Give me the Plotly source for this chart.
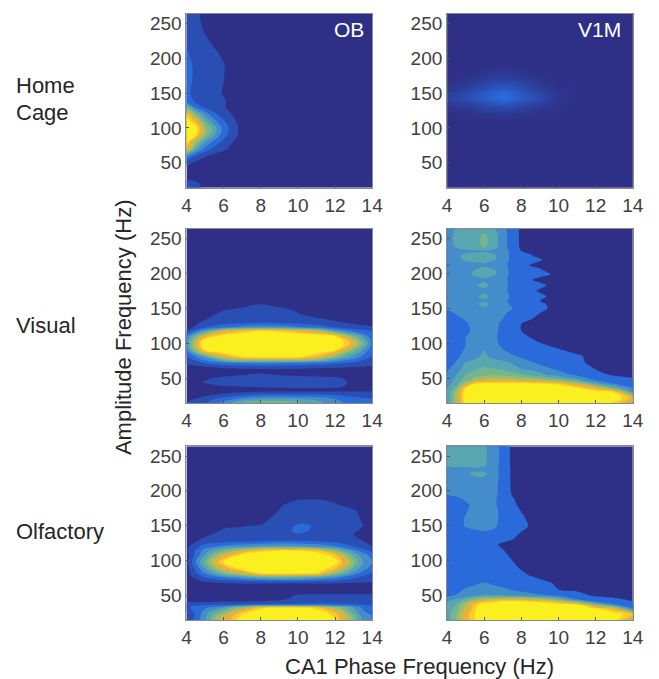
import plotly.graph_objects as go

COLORS = ["#2E3087", "#2A4FB4", "#2A6ADB", "#458CCB", "#58A6B0", "#75B58F",
          "#9ABC6E", "#C8BA4C", "#EFAE3B", "#F8CC2C", "#FBF01F"]
COLORS_V1M = ["#2E3087", "#2A6ADB", "#2A6ADB", "#458CCB", "#58A6B0", "#75B58F",
              "#9ABC6E", "#C8BA4C", "#EFAE3B", "#F8CC2C", "#FBF01F"]

XTICKS = [4, 6, 8, 10, 12, 14]
YTICKS = [50, 100, 150, 200, 250]

HOME_OB_X = [4, 4.5, 5, 5.5, 6, 6.5, 7, 8, 14]
HOME_OB_Y = [264, 240, 220, 210, 190, 170, 150, 138, 130, 120, 110, 100, 90, 80, 70, 60, 50, 40, 30, 20, 14]
HOME_OB_Z = [
    [1.2, .7, .2], [1.3, .9, .4], [1.4, 1, .8, .4], [1.6, 1, .8, .6, .3], [2, 1.2, .9, .7, .55, .1],
    [2, 1.2, .9, .7, .52, .1], [1.8, 1.1, .8, .7, .45], [2.2, 1.3, .9, .8, .6, .2], [5, 2.2, 1.3, .9, .6, .1],
    [9, 5, 3, 1.7, 1, .4], [10.5, 8, 4.5, 2.8, 1.6, .7, .1], [11, 10.3, 6, 4, 2.1, 1, .1],
    [11, 9.8, 5.5, 3.6, 1.9, .9, .1], [10, 6, 3.5, 2.2, 1.2, .5], [9, 4, 2.2, 1.2, .7, .2],
    [3, 1.5, .6, .2], [.9, .3], [.2], [0], [1, .7, .2], [1.1, .8, .3],
]

HOME_V1M_X = [4, 5, 6, 6.5, 7, 7.5, 8, 9, 10, 11, 14]
HOME_V1M_Y = [264, 190, 180, 170, 160, 150, 145, 140, 130, 120, 110, 14]
HOME_V1M_Z = [
    [0], [0], [0, 0, .15, .25, .3, .25, .15], [0, .15, .4, .55, .6, .55, .4, .15],
    [.1, .4, .8, 1.05, 1.15, 1.05, .8, .35, .05], [.4, .8, 1.4, 1.75, 1.95, 1.7, 1.3, .7, .15],
    [.6, .95, 1.55, 1.9, 2.1, 1.85, 1.45, .85, .2], [.5, .8, 1.35, 1.65, 1.8, 1.6, 1.25, .75, .2],
    [.15, .35, .65, .8, .9, .8, .6, .3, .05], [0, .05, .15, .2, .25, .2, .15, .05], [0], [0],
]

VIS_OB_X = [4, 5, 6, 7, 8, 9, 10, 11, 12, 13, 14]
VIS_OB_Y = [264, 160, 156, 147, 140, 130, 123, 118, 110, 100, 90, 80, 72, 66, 60, 56, 50, 44, 38, 33, 30, 26, 20, 14]
VIS_OB_Z = [
    [0], [0], [0, 0, 0, .1, .5, .2], [0, 0, .5, .8, .9, .8, .4], [0, .1, .9, 1, 1, 1, .6, .3, .1],
    [0, .7, 1.1, 1.2, 1.3, 1.2, 1.1, .9, .6, .3, .1], [0, 1.4, 2.2, 2.8, 3.2, 3, 2.6, 2.1, 1.4, .9, .6],
    [.6, 3.5, 7, 8.5, 9.5, 9, 8, 6.5, 3.5, 2, 1.4], [2.3, 8, 10.2, 11, 11, 11, 11, 10.8, 9.6, 5, 1.8],
    [3, 11.5, 11, 11, 11, 11, 11, 11, 11, 8, 2.2], [2.3, 9.5, 11, 11, 11, 11, 11, 10.7, 9.5, 5, 1.8],
    [1.3, 3.5, 7, 9.3, 9.6, 9.6, 9.5, 8, 5, 3, 1.3], [.7, 1.6, 2.3, 2.6, 2.7, 2.6, 2.5, 2.2, 1.8, 1.4, .9],
    [0, .4, .7, .8, .9, .9, .8, .7, .6, .5, .3], [0], [0, 0, 0, .3, .6, .3, .1],
    [0, .3, .8, 1, 1, 1, 1, .9, .7, .2], [0, .6, 1, 1.1, 1.2, 1.2, 1.1, 1, .9, .3],
    [0, 0, .4, .5, .6, .7, .8, .8, .7, .2], [0], [0, 0, .3, .5, .6, .7, .7, .7, .7, .7, .7],
    [0, .3, .7, 1.4, 1.8, 1.8, 1.8, 1.8, 1.5, 1.3, 1], [.2, 1, 2, 3, 3.6, 3.7, 3.6, 3.3, 2.6, 1.7, 1.6],
    [.6, 1.5, 3, 5, 5.7, 5.5, 5, 4, 3, 2, 1.8],
]

VIS_V1M_X = [4, 4.5, 5, 5.5, 6, 6.5, 7, 7.5, 8, 8.5, 9, 9.5, 10, 11, 12, 13, 14]
VIS_V1M_Y = [264, 255, 245, 237, 232, 225, 220, 212, 203, 199, 191, 183, 175, 167, 161, 156, 150, 143, 135, 128,
             118, 108, 98, 90, 82, 72, 64, 55, 48, 42, 36, 30, 22, 14]
VIS_V1M_Z = [
    [3, 3.6, 3.8, 3.8, 3.9, 3.7, 3, 1.8], [3, 3.8, 4, 4, 4.7, 3.9, 3, 1.9], [3, 3.8, 4, 4.2, 4.8, 4, 3, 1.9],
    [2.9, 3.6, 3.9, 4, 4.6, 3.9, 3, 2, .1], [2.8, 3, 3.3, 3.4, 3.4, 3.2, 3, 2.2, .5, .1],
    [3, 3.3, 3.8, 3.8, 3.9, 3.7, 3.1, 2.2, 1.3, .7], [2.9, 3.2, 3.7, 3.8, 3.9, 3.6, 3.1, 2.2, 1.5, 1.3, .7],
    [2.4, 2.7, 3, 3.2, 3.3, 3.1, 2.9, 2.1, 1, .4], [2.7, 3, 3.1, 3.6, 3.9, 3.7, 3, 2.2, 1.4, 1, .9, .2],
    [2.8, 3, 3.2, 3.7, 3.9, 3.7, 3, 2.2, 1.5, 1.2, 1, .6], [2.5, 2.8, 2.9, 3.1, 3.3, 3.1, 2.9, 2.1, 1.1, .6, .1],
    [2.7, 3, 3.1, 3.4, 3.8, 3.2, 2.9, 2.2, 1.5, 1.2, .9, .3], [2.5, 2.8, 2.9, 3, 3.2, 3.1, 2.9, 2.1, 1.2, .8, .3],
    [2.6, 2.9, 3, 3.3, 3.8, 3.2, 3, 2.3, 1.5, 1.2, .9, .3], [2.5, 2.8, 2.9, 3, 3.3, 3.1, 2.9, 2.1, 1.2, .8, .5],
    [2.6, 2.8, 3, 3.3, 3.8, 3.2, 3, 2.3, 1.5, 1.2, .9, .3], [2.7, 2.9, 3, 3.1, 3.3, 3.1, 3, 2.6, 1.5, 1.2, .9, .4],
    [2.1, 2.6, 2.8, 3, 3.1, 3, 2.8, 2, 1.3, .8, .5], [1.8, 2.2, 2.6, 2.9, 3, 2.9, 2.5, 1.8, 1, .6],
    [1.8, 2, 2.4, 2.8, 3, 2.8, 2.3, 1.6, .5], [1.6, 1.9, 2.3, 2.7, 3, 2.7, 2.3, 1.4, .5, .1],
    [1.6, 1.9, 2.5, 2.8, 3, 2.7, 2.2, 1.7, 1.1, .5], [1.6, 1.9, 2.5, 2.9, 3.4, 2.8, 2.3, 1.8, 1.3, 1, .7, .4],
    [1.7, 2.2, 2.6, 3, 3.5, 3, 2.6, 1.9, 1.5, 1.2, 1, .8, .7], [1.8, 2.3, 2.8, 3.2, 3.7, 3.2, 3, 2.7, 2.3, 1.8, 1.4, 1.2, 1, .7],
    [2, 2.6, 3.6, 3.8, 4, 3.9, 3.7, 3.4, 3, 2.7, 2.3, 1.9, 1.6, .9],
    [2.3, 3, 3.9, 4.3, 4.7, 4.5, 4.3, 3.9, 3.5, 3.2, 2.9, 2.6, 2.2, 1.6, .4],
    [2.6, 3.5, 4.5, 5, 5.2, 5.3, 5.2, 5, 4.7, 4.2, 3.8, 3.3, 3, 2.3, 1, .3],
    [2.8, 3.8, 5, 6, 6.8, 7, 7, 6.8, 6.5, 6.3, 6, 5.5, 5, 3.7, 2.3, 1.4, .8],
    [3.2, 4, 6.5, 9.5, 10, 10, 10, 10, 10, 10, 9.7, 9.5, 9.2, 7, 4, 2.5, 1.6],
    [3.5, 5, 9.5, 10.5, 11, 11, 11, 11, 11, 11, 11, 10.8, 10.5, 9.7, 8, 4.5, 2.5],
    [3.5, 6.2, 10.5, 11, 11, 11, 11, 11, 11, 11, 11, 11, 11, 11, 10.2, 9.5, 3.5],
    [3.5, 6.2, 10.5, 11, 11, 11, 11, 11, 11, 11, 11, 11, 11, 11, 11, 10.5, 8],
    [3.5, 6.2, 10.5, 11, 11, 11, 11, 11, 11, 11, 11, 11, 11, 11, 10.5, 9.2, 6],
]

OLF_OB_X = [4, 5, 6, 7, 8, 8.5, 9, 9.5, 10, 10.5, 11, 12, 13, 13.5, 14]
OLF_OB_Y = [264, 192, 186, 180, 170, 158, 150, 143, 137, 128, 120, 114, 108, 98, 88, 81, 76, 70, 66, 60, 52, 50,
            45, 40, 36, 32, 25, 20, 14]
OLF_OB_Z = [
    [0], [0], [0, 0, 0, 0, 0, 0, 0, .2, .6, .7, .7, .3], [0, 0, 0, 0, 0, 0, .3, .7, .8, .9, .9, .6, .1],
    [0, 0, 0, 0, 0, .1, .6, .8, .9, .9, .9, .9, .7, .1], [0, 0, 0, 0, .1, .6, .8, .9, .9, .9, .9, .9, .8, .4],
    [0, 0, .3, .4, .55, .9, .9, 1.1, 1.7, 1.7, 1.2, .9, .8, .5], [0, .1, .6, .8, .9, .9, 1, 1.3, 1.9, 1.6, 1.1, .9, .7, .3],
    [0, .3, .9, .9, 1, 1, 1, 1.1, 1.4, 1.1, 1, .8, .5, .1], [0, .8, 1.1, 1.2, 1.3, 1.4, 1.5, 1.5, 1.5, 1.4, 1.3, 1.1, .7, .5, .3],
    [.2, 2, 2.8, 3.2, 3.6, 3.8, 3.8, 3.8, 3.7, 3.5, 3.2, 2.6, 1.5, 1, .5], [.2, 3, 5, 7, 9, 9.3, 9.5, 9.5, 9.5, 9.2, 8.7, 5.5, 2.8, 1.9, 1.2],
    [0, 3.5, 7, 9.8, 10.6, 10.8, 11, 11, 11, 10.8, 10.6, 8.5, 4, 3, 2], [.1, 4.8, 9.8, 11, 11, 11, 11, 11, 11, 11, 11, 10.3, 5.5, 3.5, 2.5],
    [0, 3.5, 7.5, 10, 10.8, 11, 11, 11, 11, 11, 10.6, 8.5, 4.2, 2.9, 2], [0, 2.5, 5, 7, 9.6, 9.7, 9.7, 9.7, 9.7, 9.6, 9.4, 5.5, 3, 2, 1.3],
    [0, 1.6, 2.7, 3.5, 4.5, 4.7, 4.8, 4.8, 4.6, 4.3, 4, 3, 1.8, 1.3, .9], [0, .6, 1.1, 1.3, 1.5, 1.6, 1.6, 1.6, 1.6, 1.5, 1.4, 1.3, .9, .8, .6],
    [0, 0, .2, .3, .3, .3, .3, .3, .3, .3, .3, .3, .2, .2, .1], [0],
    [0, 0, 0, 0, 0, 0, 0, 0, 0, .3, .3, .3, .3, .3, .3], [0, 0, 0, 0, 0, 0, 0, .3, .6, .7, .8, .8, .8, .8, .7],
    [0, 0, 0, 0, .2, .3, .3, .5, .9, 1, 1, 1, 1, .9, .8], [.5, .5, .6, .6, .6, .6, .7, .8, 1.1, 1.2, 1.2, 1.2, 1.2, 1.2, 1.1],
    [1.2, 1.4, 1.5, 1.7, 1.8, 1.8, 1.9, 1.9, 1.9, 1.9, 1.9, 1.8, 1.6, 1.5, 1.4], [1.3, 2.3, 3.5, 6, 9, 9.6, 9.6, 9.6, 9.6, 9.5, 8.8, 6, 3.5, 2.3, 2],
    [.5, 3, 5.5, 9, 10.5, 11, 11, 11, 11, 11, 10.8, 8.5, 4, 2.7, 2.2], [.2, 3.2, 7, 9.8, 11, 11, 11, 11, 11, 11, 11, 9.2, 5, 3, 2.5],
    [.6, 3.4, 7.5, 10.5, 11, 11, 11, 11, 11, 11, 11, 9.6, 5.5, 3.2, 2.7],
]

OLF_V1M_X = [4, 4.5, 5, 5.5, 6, 6.5, 7, 7.5, 8, 8.5, 9, 9.5, 10, 11, 12, 13, 14]
OLF_V1M_Y = [264, 236, 230, 225, 215, 197, 190, 180, 172, 160, 149, 143, 135, 123, 111, 100, 87, 78, 73, 68, 58,
             49, 44, 41, 36, 30, 22, 14]
OLF_V1M_Z = [
    [3.7, 3.8, 3.8, 3.8, 3.7, 3, 2.2], [3.6, 3.7, 3.7, 3.7, 3.6, 2.9, 2.2], [2.9, 3, 3.1, 3.2, 3.1, 2.8, 2.2, .1],
    [2.9, 3, 3.3, 3.8, 3.8, 2.9, 2.2, .1], [2.9, 3, 3, 3.1, 3.1, 2.8, 2.2, .1], [2.7, 2.9, 3, 3.1, 3.1, 2.8, 2.1, .3],
    [2.2, 2.4, 2.7, 3, 3, 2.7, 2.1, .6], [2, 2.1, 2.3, 2.8, 3, 2.7, 2.1, .9, .1], [1.9, 2, 2.4, 2.8, 3, 2.8, 2.2, 1.2, .4],
    [1.9, 2, 2.6, 2.9, 3, 2.8, 2.2, 1.5, .8, .1], [1.9, 2, 2.6, 2.9, 3, 2.7, 2.1, 1.6, 1, .3], [1.8, 1.9, 2.2, 2.4, 2.6, 2.4, 2, 1.4, .6],
    [1.8, 1.9, 2, 2, 2, 1.9, 1.6, .9, .1], [1.7, 1.8, 1.9, 2, 2, .8, .2], [1.8, 1.9, 1.9, 1.9, 1.9, 1.7, .7, .1],
    [1.8, 1.9, 1.9, 1.9, 1.9, 1.8, 1.4, .5], [1.8, 1.9, 1.9, 1.9, 1.9, 1.9, 1.7, 1.1, .4], [1.8, 1.9, 1.9, 1.9, 1.9, 1.9, 1.9, 1.7, 1.1, .4],
    [1.9, 1.9, 1.9, 1.9, 1.9, 1.9, 1.9, 1.8, 1.5, 1.1, .5], [2, 2, 2.1, 2.3, 2.5, 2.3, 2.1, 1.9, 1.7, 1.3, .9, .6, .2],
    [2.1, 2.2, 2.6, 2.8, 2.9, 2.8, 2.7, 2.4, 2.2, 1.9, 1.6, 1.1, .5, .2],
    [2.4, 2.6, 3, 3.4, 3.6, 3.6, 3.6, 3.4, 3.2, 3, 2.8, 2.6, 2.5, 1.2, .3],
    [3, 3.7, 4.5, 5.5, 6.5, 7, 7.5, 7.5, 7.5, 7, 6.5, 5.5, 4.5, 2.5, 1.5, .8, .2],
    [3.4, 4, 5, 7, 8.5, 9, 9.5, 9.5, 9.5, 9.2, 8.8, 8.3, 7.5, 4.5, 2.2, 1.2, .5],
    [3.7, 4.5, 6.5, 9, 10.3, 10.8, 11, 11, 11, 11, 11, 10.8, 10.5, 9.8, 5.5, 2.8, 1.4],
    [3.8, 5, 7, 9.3, 11, 11, 11, 11, 11, 11, 11, 11, 11, 11, 10, 8, 2.7],
    [3.9, 5.5, 8, 9.6, 11, 11, 11, 11, 11, 11, 11, 11, 11, 11, 11, 10.3, 8.5],
    [3.9, 5.5, 8, 9.5, 11, 11, 11, 11, 11, 11, 11, 11, 11, 11, 11, 10, 6],
]

W, H = 659, 679
# plot-area offset and width as rendered with these margins, used to convert page pixels to paper fractions
GS_L, GS_W = 4.3, 643.9
LEFT = [(186, 372), (447, 633)]
ROWS = [(13, 187), (228, 403), (446, 620)]


def px_x(px):
    return (px - GS_L) / GS_W


PANELS = [
    (0, 0, HOME_OB_X, HOME_OB_Y, HOME_OB_Z, COLORS, "fill"),
    (0, 1, HOME_V1M_X, HOME_V1M_Y, HOME_V1M_Z, COLORS, "heatmap"),
    (1, 0, VIS_OB_X, VIS_OB_Y, VIS_OB_Z, COLORS, "fill"),
    (1, 1, VIS_V1M_X, VIS_V1M_Y, VIS_V1M_Z, COLORS_V1M, "fill"),
    (2, 0, OLF_OB_X, OLF_OB_Y, OLF_OB_Z, COLORS, "fill"),
    (2, 1, OLF_V1M_X, OLF_V1M_Y, OLF_V1M_Z, COLORS_V1M, "fill"),
]


def full(rows, n):
    return [list(r) + [0] * (n - len(r)) for r in rows]


fig = go.Figure()
layout = {}
for i, (r, c, xs, ys, zs, cols, coloring) in enumerate(PANELS):
    n = i + 1
    scale = [[k / 10, col] for k, col in enumerate(cols)]
    fig.add_trace(go.Contour(
        x=xs, y=ys[::-1], z=full(zs, len(xs))[::-1],
        xaxis=f"x{n}", yaxis=f"y{n}",
        zmin=0, zmax=10, autocontour=False,
        contours=dict(start=.5, end=9.5, size=1, coloring=coloring, showlines=False),
        line=dict(width=0, smoothing=1),
        colorscale=scale, showscale=False, hoverinfo="skip",
    ))
    common = dict(showgrid=False, zeroline=False, showline=True, mirror=True, linecolor="#8a8a8a",
                  linewidth=1, ticks="inside", ticklen=3, tickcolor="#555555",
                  tickfont=dict(family="Liberation Sans", size=19, color="#404040"))
    layout[f"xaxis{n}"] = dict(common, domain=[px_x(LEFT[c][0]), px_x(LEFT[c][1])], range=[4, 14],
                               tickvals=XTICKS, anchor=f"y{n}")
    layout[f"yaxis{n}"] = dict(common, domain=[1 - ROWS[r][1] / H, 1 - ROWS[r][0] / H], range=[14, 264],
                               tickvals=YTICKS, anchor=f"x{n}")


def label(px, py, text, size=22, color="#262626", angle=0, anchor="left"):
    return dict(x=px_x(px), y=1 - py / H, xref="paper", yref="paper", text=text, showarrow=False,
                xanchor=anchor, yanchor="middle", textangle=angle, align="left",
                font=dict(family="Liberation Sans", size=size, color=color))


annotations = [
    label(13, 85, "Home"), label(13, 112, "Cage"), label(13, 325, "Visual"), label(13, 531, "Olfactory"),
    label(349, 29, "OB", size=21, color="white", anchor="center"),
    label(600, 29, "V1M", size=21, color="white", anchor="center"),
    label(419, 666, "CA1 Phase Frequency (Hz)", anchor="center"),
    label(123, 327, "Amplitude Frequency (Hz)", angle=-90, anchor="center"),
]

fig.update_layout(width=W, height=H, margin=dict(l=0, r=0, t=0, b=0), paper_bgcolor="white",
                  plot_bgcolor="white", showlegend=False, annotations=annotations, **layout)
fig.write_html("out.html", config={"displayModeBar": False},
               post_script="document.body.style.margin='0';document.body.style.overflow='hidden';")
